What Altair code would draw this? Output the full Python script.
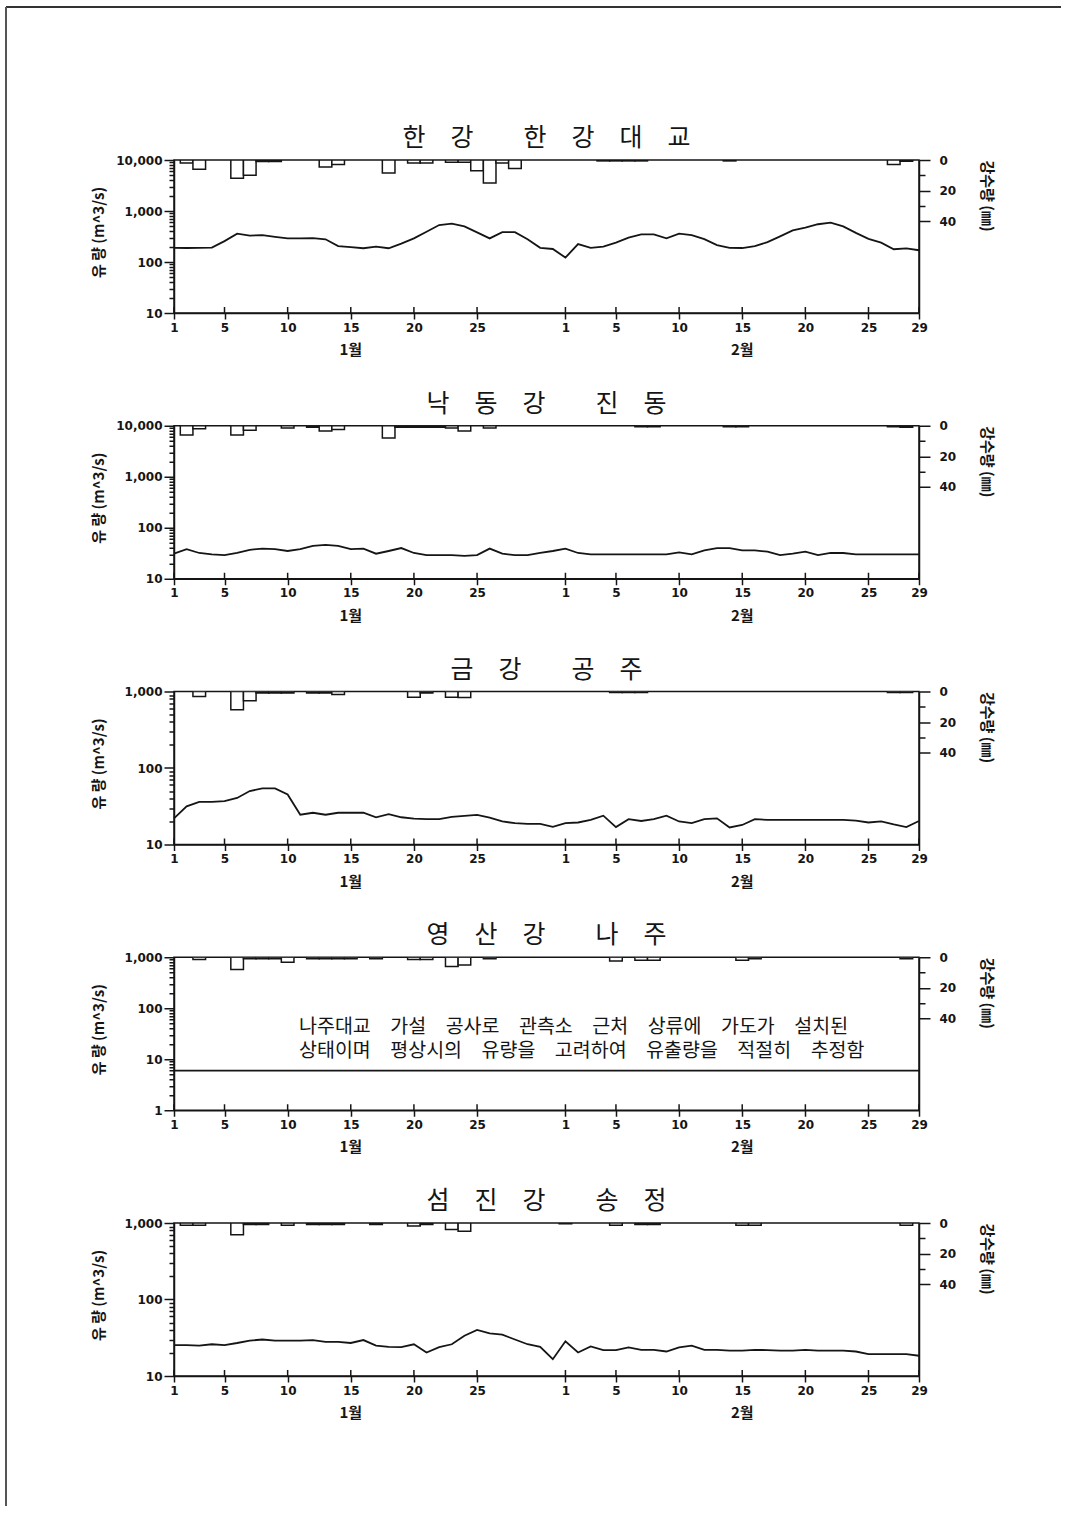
import altair as alt
import pandas as pd

# ---------------- data ----------------
DAYS = list(range(1, 61))          # 1..31 = Jan, 32..60 = Feb 1..29
TICK_DAYS = [1, 5, 10, 15, 20, 25, 32, 36, 41, 46, 51, 56, 60]
MONTH_LABELS = ["1월", "2월"]
MONTH_DAYS = [15, 46]

TITLES = [
    "한　강　　한　강　대　교",
    "낙　동　강　　진　동",
    "금　강　　공　주",
    "영　산　강　　나　주",
    "섬　진　강　　송　정",
]

# daily flow (m^3/s)
han_flow = [190, 188, 190, 192, 257, 359, 330, 335, 310, 290, 290, 295, 279, 205, 195, 186,
            200, 186, 229, 290, 393, 531, 563, 500, 380, 290, 385, 385, 280, 190, 180,
            122, 224, 190, 200, 240, 300, 348, 348, 290, 360, 335, 280, 215, 190, 188, 205,
            245, 318, 418, 471, 550, 590, 500, 372, 285, 240, 178, 185, 170]
nak_flow = [31, 38, 32, 30, 29, 32, 37, 39, 38, 35, 38, 44, 46, 44, 38, 39, 31, 35, 40, 32,
            29, 29, 29, 28, 29, 39, 31, 29, 29, 32, 35,
            39, 32, 30, 30, 30, 30, 30, 30, 30, 33, 30, 36, 40, 40, 36, 36, 34, 29, 31, 34,
            29, 32, 32, 30, 30, 30, 30, 30, 30]
geum_flow = [22, 31.5, 36, 36, 37, 40.6, 50, 54, 54, 45, 24.5, 26, 24.5, 26, 26, 26, 22.7, 25,
             22.7, 21.8, 21.4, 21.4, 23, 23.6, 24.4, 22.5, 20, 19, 18.6, 18.6, 17,
             19, 19.4, 21, 23.8, 16.9, 21.4, 20.3, 21.4, 23.8, 20, 19, 21.4, 22, 16.7, 18,
             21.4, 21, 21, 21, 21, 21, 21, 21, 20.5, 19.4, 20, 18.3, 16.9, 20.3]
yeong_flow = [6.0] * 60
seom_flow = [25.4, 25.4, 24.9, 26, 25.4, 27, 29, 30, 29, 29, 29, 29.5, 28, 28, 27, 29.5, 25,
             24, 23.8, 26, 20.3, 23.8, 26, 33.6, 40, 36, 34.7, 30, 26, 24, 16.6,
             28.4, 20.3, 24.4, 21.8, 21.8, 23.6, 22, 22, 20.9, 23.6, 24.9, 22, 22, 21.4, 21.4,
             22, 21.8, 21.4, 21.4, 22, 21.4, 21.4, 21.4, 20.9, 19.3, 19.3, 19.3, 19.3, 18.4]

# daily rainfall (mm), days with rain only
han_rain_days = [2, 3, 6, 7, 8, 9, 13, 14, 18, 20, 21, 23, 24, 25, 26, 27, 28, 35, 36, 37, 38, 45, 58, 59]
han_rain_mm = [2, 6, 12, 10, 1, 1, 4.5, 3, 8.5, 2, 2, 1.5, 1.5, 7, 15, 2, 5.5, 0.6, 0.6, 0.6, 0.6, 0.6, 3, 0.8]
nak_rain_days = [2, 3, 6, 7, 10, 12, 13, 14, 18, 19, 20, 21, 22, 23, 24, 26, 38, 39, 45, 46, 58, 59]
nak_rain_mm = [6, 2, 6, 3, 1.5, 1, 3.5, 2.5, 8, 1, 1, 1, 1, 1.5, 3.5, 1.5, 0.6, 0.6, 0.6, 0.6, 0.6, 1]
geum_rain_days = [3, 6, 7, 8, 9, 10, 12, 13, 14, 20, 21, 23, 24, 36, 37, 38, 58, 59]
geum_rain_mm = [3.3, 12, 6, 1, 1, 1, 1, 1, 2, 3.7, 1, 3.7, 4, 0.7, 0.7, 0.7, 0.6, 0.6]
yeong_rain_days = [3, 6, 7, 8, 9, 10, 12, 13, 14, 15, 17, 20, 21, 23, 24, 26, 36, 38, 39, 46, 47, 59]
yeong_rain_mm = [1.5, 8, 1, 1, 1, 3.3, 1, 1, 1, 1, 1, 1.5, 1.5, 6, 5, 1, 2.5, 2, 2, 2, 1, 1]
seom_rain_days = [2, 3, 6, 7, 8, 10, 12, 13, 14, 17, 20, 21, 23, 24, 32, 36, 38, 39, 46, 47, 59]
seom_rain_mm = [1.5, 1.5, 7.6, 1, 1, 1.5, 1, 1, 1, 1, 2, 1, 4.3, 5.4, 0.5, 1.5, 1, 1, 1.5, 1.5, 1.5]

NOTE_LINES = [
    "나주대교　가설　공사로　관측소　근처　상류에　가도가　설치된",
    "상태이며　평상시의　유량을　고려하여　유출량을　적절히　추정함",
]

# ---------------- style ----------------
W, H = 745, 153
INK = "#151515"
KR = "Noto Sans CJK KR"
NUM = "DejaVu Sans"
MAJOR = "indexof([1,10,100,1000,10000], datum.value) >= 0"


def log_ticks(lo, hi):
    vals = []
    k = lo
    while k < hi:
        for m in range(1, 10):
            if m * k <= hi:
                vals.append(m * k)
        k *= 10
    vals.append(hi)
    return sorted(set(vals))


XS = alt.Scale(domain=[1, 60], nice=False, zero=False)
XAXIS = alt.Axis(values=TICK_DAYS,
                 labelExpr="datum.value > 31 ? '' + (datum.value - 31) : '' + datum.value",
                 title=None, grid=False, tickSize=6, labelPadding=3,
                 labelFont=NUM, labelFontSize=12, labelFontWeight="bold",
                 labelColor=INK, labelOverlap=False, labelFlush=False)


def X(field):
    return alt.X(field, scale=XS, axis=XAXIS)


def panel(title, flow, rdays, rmm, ymin, ymax, note=None, frame=False):
    df = pd.DataFrame({"day": DAYS, "flow": flow})
    rain = pd.DataFrame({"day": rdays, "mm": rmm})
    rain["x1"] = rain["day"] - 0.5
    rain["x2"] = rain["day"] + 0.5
    rain["top"] = 0
    ticks = pd.DataFrame({"day": TICK_DAYS})
    months = pd.DataFrame({"day": MONTH_DAYS, "label": MONTH_LABELS})

    yaxis = alt.Axis(orient="left", values=log_ticks(ymin, ymax),
                     labelExpr=MAJOR + " ? format(datum.value, ',') : ''",
                     tickSize={"condition": {"test": MAJOR, "value": 10}, "value": 5},
                     labelPadding=2, labelFont=NUM, labelFontSize=12, labelFontWeight="bold",
                     labelColor=INK, labelOverlap=False, grid=False,
                     title="유 량 (m^3/s)", titleFont=KR, titleFontSize=15,
                     titleFontWeight="bold", titleColor=INK,
                     titleX=-76, titleY=72, titleAngle=270,
                     titleAlign="center", titleBaseline="middle")
    raxis = alt.Axis(orient="right", values=[0, 10, 20, 30, 40],
                     labelExpr="datum.value % 20 == 0 ? datum.label : ''",
                     tickSize={"condition": {"test": "datum.value % 20 == 0", "value": 11}, "value": 6},
                     labelPadding=9, labelFont=NUM, labelFontSize=12, labelFontWeight="bold",
                     labelColor=INK, labelOverlap=False, grid=False,
                     title="강수량 (㎜)", titleFont=KR, titleFontSize=15,
                     titleFontWeight="bold", titleColor=INK,
                     titleX=67, titleY=0, titleAngle=90,
                     titleAlign="left", titleBaseline="middle")

    line = alt.Chart(df).mark_line(color=INK, strokeWidth=1.8).encode(
        x=X("day:Q"),
        y=alt.Y("flow:Q", scale=alt.Scale(type="log", domain=[ymin, ymax], nice=False),
                axis=yaxis),
    )
    up_ticks = alt.Chart(ticks).mark_rule(color=INK, strokeWidth=1.5).encode(
        x=X("day:Q"),
        y=alt.value(H), y2=alt.value(H - 6),
    )
    month = alt.Chart(months).mark_text(font=KR, fontSize=15, fontWeight="bold",
                                        color=INK, baseline="middle").encode(
        x=X("day:Q"),
        y=alt.value(H + 37),
        text="label:N",
    )
    head = alt.Chart(pd.DataFrame({"t": [title]})).mark_text(
        font=KR, fontSize=25, color=INK, align="center", baseline="middle"
    ).encode(text="t:N", x=alt.value(W / 2), y=alt.value(-22))

    left_layers = [line, up_ticks, month, head]
    if note:
        left_layers.append(
            alt.Chart(pd.DataFrame({"t": ["\n".join(note)]})).mark_text(
                font=KR, fontSize=19.5, color=INK, align="left", baseline="middle",
                lineBreak="\n", lineHeight=24
            ).encode(text="t:N", x=alt.value(125), y=alt.value(70))
        )
    if frame:
        one = pd.DataFrame({"a": [0]})
        left_layers.append(alt.Chart(one).mark_rule(color="#333", strokeWidth=2).encode(
            x=alt.value(-168), x2=alt.value(887), y=alt.value(-153)))
        left_layers.append(alt.Chart(one).mark_rule(color="#555", strokeWidth=2).encode(
            x=alt.value(-168), y=alt.value(-153), y2=alt.value(1346)))

    bars = alt.Chart(rain).mark_rect(fill="white", stroke=INK, strokeWidth=1.5, clip=True).encode(
        x=X("x1:Q"),
        x2="x2:Q",
        y=alt.Y("top:Q", scale=alt.Scale(domain=[0, 100], reverse=True, nice=False, zero=True),
                axis=raxis),
        y2="mm:Q",
    )

    return alt.layer(alt.layer(*left_layers), bars).resolve_scale(y="independent").properties(
        width=W, height=H,
    )


panels = [
    panel(TITLES[0], han_flow, han_rain_days, han_rain_mm, 10, 10000, frame=True),
    panel(TITLES[1], nak_flow, nak_rain_days, nak_rain_mm, 10, 10000),
    panel(TITLES[2], geum_flow, geum_rain_days, geum_rain_mm, 10, 1000),
    panel(TITLES[3], yeong_flow, yeong_rain_days, yeong_rain_mm, 1, 1000, note=NOTE_LINES),
    panel(TITLES[4], seom_flow, seom_rain_days, seom_rain_mm, 10, 1000),
]

chart = alt.vconcat(*panels, spacing=112.75, bounds="flush").configure_view(
    stroke=INK, strokeWidth=1.5
).configure_axis(
    domainColor=INK, domainWidth=1.5, tickColor=INK, tickWidth=1.5
).properties(
    padding={"left": 4, "top": 5, "right": 0, "bottom": 0}, background="white"
)

chart.save("out.html", embed_options={"renderer": "svg", "actions": False})
